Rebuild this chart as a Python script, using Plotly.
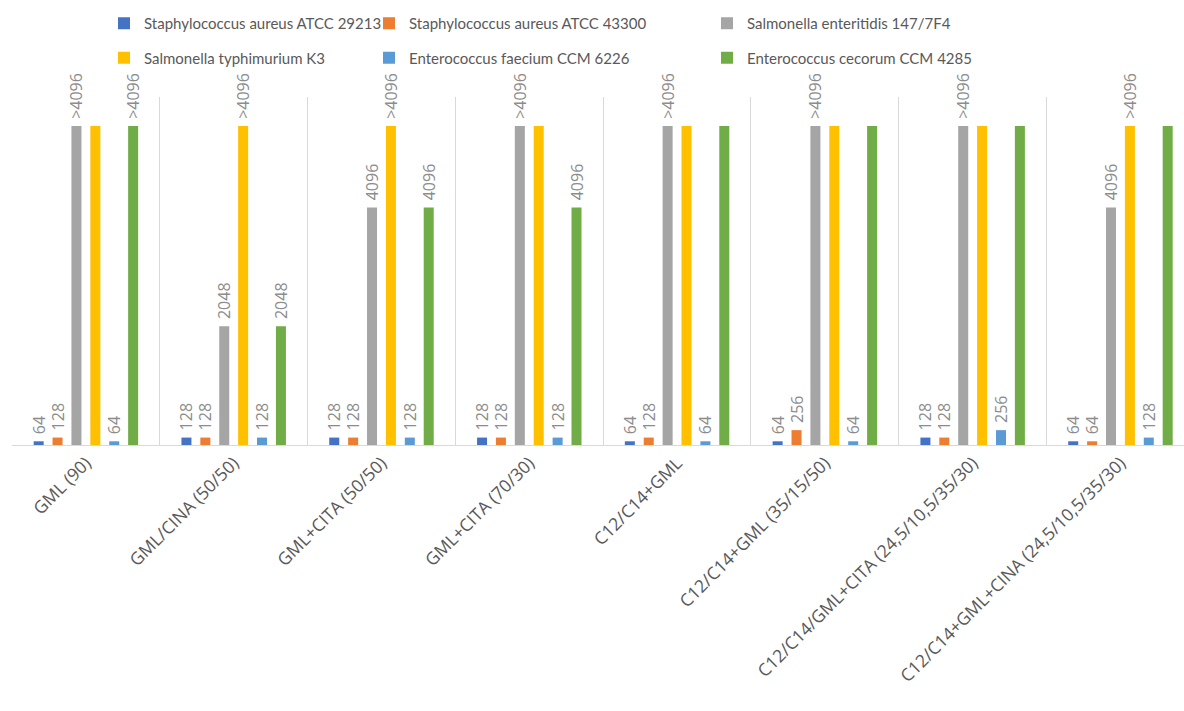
import plotly.graph_objects as go

categories = [
    "GML (90)",
    "GML/CINA (50/50)",
    "GML+CITA (50/50)",
    "GML+CITA (70/30)",
    "C12/C14+GML",
    "C12/C14+GML (35/15/50)",
    "C12/C14/GML+CITA (24,5/10,5/35/30)",
    "C12/C14+GML+CINA (24,5/10,5/35/30)",
]

series_names = [
    "Staphylococcus aureus ATCC 29213",
    "Staphylococcus aureus ATCC 43300",
    "Salmonella enteritidis 147/7F4",
    "Salmonella typhimurium K3",
    "Enterococcus faecium CCM 6226",
    "Enterococcus cecorum CCM 4285",
]

# ">4096" values are drawn at 5500 (bar height in the reference)
sa_29213 = [64, 128, 128, 128, 64, 64, 128, 64]
sa_43300 = [128, 128, 128, 128, 128, 256, 128, 64]
se_147 = [5500, 2048, 4096, 5500, 5500, 5500, 5500, 4096]
st_k3 = [5500, 5500, 5500, 5500, 5500, 5500, 5500, 5500]
ef_6226 = [64, 128, 128, 128, 64, 64, 256, 128]
ec_4285 = [5500, 2048, 4096, 4096, 5500, 5500, 5500, 5500]

lab_sa_29213 = ["64", "128", "128", "128", "64", "64", "128", "64"]
lab_sa_43300 = ["128", "128", "128", "128", "128", "256", "128", "64"]
lab_se_147 = [">4096", "2048", "4096", ">4096", ">4096", ">4096", ">4096", "4096"]
lab_st_k3 = ["", ">4096", ">4096", "", "", "", "", ">4096"]
lab_ef_6226 = ["64", "128", "128", "128", "64", "64", "256", "128"]
lab_ec_4285 = [">4096", "2048", "4096", "4096", "", "", "", ""]

values = [sa_29213, sa_43300, se_147, st_k3, ef_6226, ec_4285]
labels = [lab_sa_29213, lab_sa_43300, lab_se_147, lab_st_k3, lab_ef_6226, lab_ec_4285]
colors = ["#4472C4", "#ED7D31", "#A5A5A5", "#FFC000", "#5B9BD5", "#70AD47"]
legend_ids = ["legend", "legend2", "legend3"]

W, H = 1184, 711
ML, MT, MB = 12, 97, 266
PW, PH = W - ML, H - MT - MB
positions = list(range(len(categories)))
boundaries = [p - 0.5 for p in positions] + [len(categories) - 0.5]

fig = go.Figure()
for i, name in enumerate(series_names):
    txt = [("\u00a0" + t) if t else "" for t in labels[i]]
    fig.add_trace(go.Bar(
        x=positions,
        y=values[i],
        name=name,
        marker=dict(color=colors[i], line=dict(width=0)),
        text=txt,
        textposition="outside",
        textangle=-90,
        constraintext="none",
        cliponaxis=False,
        textfont=dict(family="Open Sans", size=16, color="#8c8c8c"),
        legend=legend_ids[i % 3],
        legendgroup=name,
        hoverinfo="skip",
    ))

def leg(xpx, ypx):
    return dict(
        x=(xpx - ML) / PW, y=1 + (MT - ypx) / PH, xanchor="left", yanchor="top",
        orientation="v",
        font=dict(family="Lato", size=15, color="#595959"),
        tracegroupgap=12,
        bgcolor="rgba(0,0,0,0)",
        borderwidth=0,
    )

fig.update_layout(
    width=W, height=H,
    margin=dict(l=ML, r=0, t=MT, b=MB),
    paper_bgcolor="white",
    plot_bgcolor="white",
    barmode="group",
    bargap=0.233,
    bargroupgap=0.47,
    showlegend=True,
    legend=leg(104, 7),
    legend2=leg(369, 7),
    legend3=leg(707, 7),
    xaxis=dict(
        range=[-0.5, 7.43],
        tickmode="array",
        tickvals=positions,
        ticktext=categories,
        showgrid=False,
        minor=dict(tickmode="array", tickvals=boundaries, showgrid=True,
                   gridcolor="#d9d9d9", gridwidth=1, ticks=""),
        showline=True,
        linecolor="#d9d9d9",
        linewidth=1,
        ticks="",
        tickangle=-45,
        tickfont=dict(family="Open Sans", size=17.5, color="#595959"),
        zeroline=False,
    ),
    yaxis=dict(
        range=[0, 6000],
        showgrid=False,
        showticklabels=False,
        zeroline=False,
        showline=False,
        ticks="",
    ),
)

fig.write_html("out.html")
